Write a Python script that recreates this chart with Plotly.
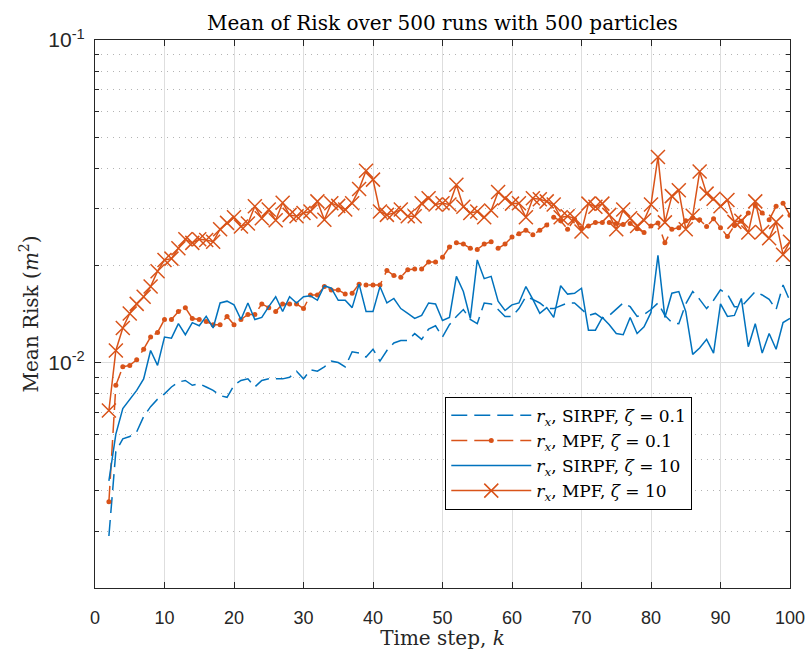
import plotly.graph_objects as go

k = list(range(2, 101))

sirpf_01 = [0.0029, 0.0053, 0.0058, 0.0059, 0.0061, 0.0068, 0.0073, 0.0077, 0.0080,
            0.0084, 0.0087, 0.0088, 0.0085, 0.0086, 0.0084, 0.0082, 0.0079, 0.0078,
            0.0085, 0.0088, 0.0089, 0.0084, 0.0088, 0.0089, 0.0089, 0.0089, 0.0090,
            0.0094, 0.0089, 0.0095, 0.0094, 0.0097, 0.0101, 0.0100, 0.0097, 0.0108,
            0.0107, 0.0104, 0.0110, 0.0101, 0.0109, 0.0115, 0.0117, 0.0117, 0.0123,
            0.0118, 0.0127, 0.0130, 0.0120, 0.0131, 0.0139, 0.0146, 0.0136, 0.0132,
            0.0153, 0.0152, 0.0146, 0.0139, 0.0139, 0.0147, 0.0160, 0.0157, 0.0153,
            0.0147, 0.0147, 0.0150, 0.0153, 0.0153, 0.0146, 0.0140, 0.0142, 0.0137,
            0.0140, 0.0146, 0.0153, 0.0149, 0.0139, 0.0141, 0.0146, 0.0153, 0.0140,
            0.0133, 0.0132, 0.0152, 0.0166, 0.0157, 0.0147, 0.0156, 0.0168, 0.0163,
            0.0149, 0.0149, 0.0157, 0.0166, 0.0162, 0.0157, 0.0146, 0.0174, 0.0155]

mpf_01 = [0.0037, 0.0085, 0.0097, 0.0098, 0.0102, 0.0110, 0.0120, 0.0124, 0.0136,
          0.0136, 0.0144, 0.0148, 0.0137, 0.0136, 0.0134, 0.0131, 0.0131, 0.0139,
          0.0131, 0.0136, 0.0141, 0.0141, 0.0152, 0.0148, 0.0144, 0.0152, 0.0152,
          0.0152, 0.0147, 0.0162, 0.0162, 0.0172, 0.0168, 0.0168, 0.0163, 0.0164,
          0.0175, 0.0174, 0.0174, 0.0174, 0.0193, 0.0186, 0.0184, 0.0194, 0.0195,
          0.0195, 0.0205, 0.0205, 0.0212, 0.0228, 0.0235, 0.0233, 0.0226, 0.0224,
          0.0233, 0.0237, 0.0226, 0.0233, 0.0245, 0.0251, 0.0257, 0.0249, 0.0257,
          0.0267, 0.0282, 0.0275, 0.0259, 0.0278, 0.0262, 0.0265, 0.0272, 0.0272,
          0.0272, 0.0270, 0.0268, 0.0270, 0.0260, 0.0253, 0.0265, 0.0271, 0.0235,
          0.0259, 0.0262, 0.0275, 0.0281, 0.0277, 0.0264, 0.0279, 0.0262, 0.0246,
          0.0266, 0.0274, 0.0291, 0.0307, 0.0291, 0.0277, 0.0305, 0.0312, 0.0286]

sirpf_10 = [0.0043, 0.0060, 0.0072, 0.0077, 0.0082, 0.0089, 0.0109, 0.0098, 0.0120,
            0.0119, 0.0132, 0.0122, 0.0133, 0.0130, 0.0139, 0.0128, 0.0153, 0.0155,
            0.0151, 0.0136, 0.0153, 0.0136, 0.0138, 0.0149, 0.0160, 0.0144, 0.0160,
            0.0153, 0.0160, 0.0161, 0.0156, 0.0173, 0.0170, 0.0156, 0.0156, 0.0148,
            0.0175, 0.0144, 0.0144, 0.0172, 0.0153, 0.0158, 0.0147, 0.0142, 0.0137,
            0.0140, 0.0153, 0.0152, 0.0135, 0.0138, 0.0185, 0.0166, 0.0137, 0.0208,
            0.0182, 0.0185, 0.0155, 0.0145, 0.0151, 0.0153, 0.0172, 0.0157, 0.0142,
            0.0148, 0.0138, 0.0173, 0.0163, 0.0164, 0.0170, 0.0126, 0.0126, 0.0138,
            0.0131, 0.0123, 0.0122, 0.0138, 0.0123, 0.0129, 0.0143, 0.0215, 0.0138,
            0.0164, 0.0166, 0.0144, 0.0106, 0.0111, 0.0118, 0.0107, 0.0152, 0.0139,
            0.0140, 0.0158, 0.0112, 0.0132, 0.0107, 0.0123, 0.0110, 0.0133, 0.0137]

mpf_10 = [0.0071, 0.0109, 0.0128, 0.0142, 0.0152, 0.0160, 0.0172, 0.0192, 0.0208,
          0.0210, 0.0226, 0.0241, 0.0235, 0.0241, 0.0240, 0.0237, 0.0259, 0.0271,
          0.0282, 0.0264, 0.0270, 0.0305, 0.0280, 0.0298, 0.0276, 0.0313, 0.0287,
          0.0284, 0.0291, 0.0294, 0.0316, 0.0277, 0.0312, 0.0306, 0.0298, 0.0312,
          0.0345, 0.0393, 0.0369, 0.0294, 0.0287, 0.0291, 0.0298, 0.0284, 0.0284,
          0.0312, 0.0323, 0.0309, 0.0312, 0.0309, 0.0356, 0.0304, 0.0291, 0.0294,
          0.0282, 0.0296, 0.0338, 0.0323, 0.0311, 0.0312, 0.0282, 0.0323, 0.0321,
          0.0316, 0.0309, 0.0282, 0.0284, 0.0280, 0.0255, 0.0311, 0.0304, 0.0311,
          0.0287, 0.0259, 0.0298, 0.0280, 0.0265, 0.0276, 0.0309, 0.0434, 0.0272,
          0.0328, 0.0342, 0.0259, 0.0285, 0.0391, 0.0334, 0.0322, 0.0305, 0.0319,
          0.0273, 0.0275, 0.0253, 0.0316, 0.0254, 0.0243, 0.0273, 0.0216, 0.0237]

names = ["<i>r</i><sub><i>x</i></sub>, SIRPF, <i>ζ</i> = 0.1",
         "<i>r</i><sub><i>x</i></sub>, MPF, <i>ζ</i> = 0.1",
         "<i>r</i><sub><i>x</i></sub>, SIRPF, <i>ζ</i> = 10",
         "<i>r</i><sub><i>x</i></sub>, MPF, <i>ζ</i> = 10"]

x_ticks = list(range(0, 101, 10))
y_major = [0.01, 0.1]
y_major_text = ["10<sup>-2</sup>", "10<sup>-1</sup>"]
y_minor = [0.002, 0.003, 0.004, 0.005, 0.006, 0.007, 0.008, 0.009,
           0.02, 0.03, 0.04, 0.05, 0.06, 0.07, 0.08, 0.09]

BLUE = "#0072BD"
ORANGE = "#D95319"
AX = "#262626"
SERIF = "DejaVu Serif, serif"
SANS = "Liberation Sans, Arial, sans-serif"

fig = go.Figure()
fig.add_trace(go.Scatter(x=k, y=sirpf_01, mode="lines", name=names[0],
                         line=dict(color=BLUE, width=1.5, dash="16px,7px")))
fig.add_trace(go.Scatter(x=k, y=mpf_01, mode="lines+markers", name=names[1],
                         line=dict(color=ORANGE, width=1.5, dash="16px,7px"),
                         marker=dict(symbol="circle", size=5, color=ORANGE)))
fig.add_trace(go.Scatter(x=k, y=sirpf_10, mode="lines", name=names[2],
                         line=dict(color=BLUE, width=1.5)))
fig.add_trace(go.Scatter(x=k, y=mpf_10, mode="lines+markers", name=names[3],
                         line=dict(color=ORANGE, width=1.5),
                         marker=dict(symbol="x-thin", size=14,
                                     line=dict(color=ORANGE, width=1.5))))

fig.update_layout(
    width=808, height=650,
    margin=dict(l=95, r=18, t=40, b=62),
    paper_bgcolor="white", plot_bgcolor="white",
    title=dict(text="Mean of Risk over 500 runs with 500 particles",
               x=0.5475, xanchor="center", y=0.964, yanchor="middle",
               font=dict(family=SERIF, size=20, color="black")),
    showlegend=True,
    legend=dict(x=0.504, y=0.349, xanchor="left", yanchor="top",
                bgcolor="white", bordercolor="black", borderwidth=1,
                font=dict(family=SERIF, size=17, color="black"),
                tracegroupgap=0, itemwidth=80),
    xaxis=dict(range=[0, 100], tickmode="array", tickvals=x_ticks,
               ticks="inside", ticklen=6, tickcolor=AX, mirror="allticks",
               showline=True, linecolor=AX, linewidth=1.2, automargin=False,
               showgrid=True, gridcolor="#dedede", gridwidth=1, zeroline=False,
               ticklabelstandoff=13,
               tickfont=dict(family=SANS, size=18, color=AX),
               title=dict(text="Time step, <i>k</i>", standoff=0,
                          font=dict(family=SERIF, size=20, color=AX))),
    yaxis=dict(type="log", range=[-2.69897, -1], tickmode="array",
               tickvals=y_major, ticktext=y_major_text, automargin=False,
               ticks="inside", ticklen=6, tickcolor=AX, mirror="allticks",
               showline=True, linecolor=AX, linewidth=1.2,
               showgrid=True, gridcolor="#dedede", gridwidth=1, zeroline=False,
               ticklabelstandoff=5,
               tickfont=dict(family=SANS, size=21, color=AX),
               minor=dict(tickmode="array", tickvals=y_minor, ticks="inside",
                          ticklen=4, tickcolor=AX, showgrid=True,
                          gridcolor="#b4b4b4", griddash="1px,5px", gridwidth=1),
               title=dict(text="Mean Risk (<i>m</i><sup>2</sup>)", standoff=4,
                          font=dict(family=SERIF, size=20, color=AX))),
)

fig.write_html("out.html")
